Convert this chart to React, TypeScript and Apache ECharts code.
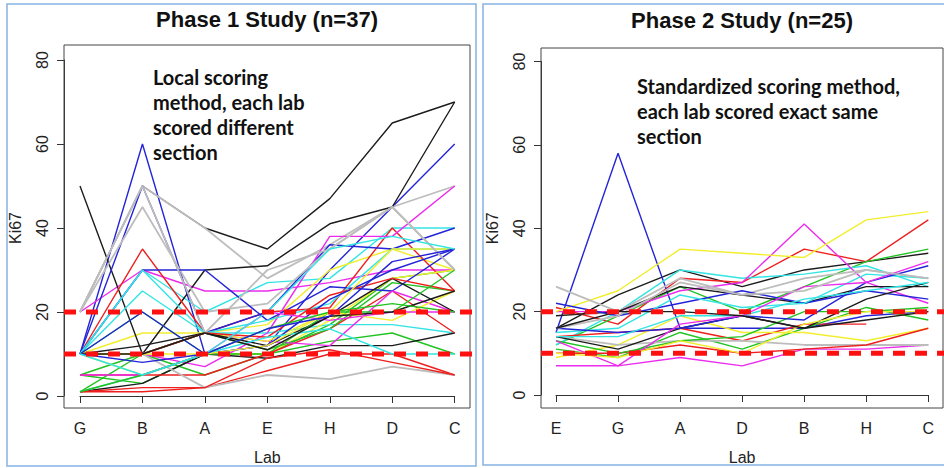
import React, { useEffect, useRef } from 'react';
import * as echarts from 'echarts';

// ---------- data ----------
const LABS_PHASE1 = ['G', 'B', 'A', 'E', 'H', 'D', 'C'];
const LABS_PHASE2 = ['E', 'G', 'A', 'D', 'B', 'H', 'C'];
const THRESHOLDS = [10, 20];
const Y_MIN = 0;
const Y_MAX = 80;
const Y_STEP = 20;

const TITLE_PHASE1 = 'Phase 1 Study (n=37)';
const TITLE_PHASE2 = 'Phase 2 Study (n=25)';
const NOTE_PHASE1 = ['Local scoring', 'method, each lab', 'scored different', 'section'];
const NOTE_PHASE2 = ['Standardized scoring method,', 'each lab scored exact same', 'section'];

// Phase 1 (order G B A E H D C)
const P1_BLACK = [
  [20, 50, 40, 35, 47, 65, 70],
  [50, 10, 30, 31, 41, 45, 70],
  [1, 3, 10, 9, 12, 12, 15],
  [10, 12, 15, 12, 19, 28, 20],
  [10, 10, 15, 11, 19, 20, 25],
];
const P1_RED = [
  [1, 1, 2, 6, 10, 10, 5],
  [10, 35, 15, 20, 21, 40, 25],
  [5, 5, 5, 10, 16, 25, 15],
  [10, 10, 15, 14, 24, 28, 25],
  [1, 2, 2, 9, 11, 8, 5],
];
const P1_GREEN = [
  [5, 10, 5, 10, 17, 28, 30],
  [5, 3, 10, 10, 13, 15, 10],
  [1, 10, 15, 11, 16, 27, 25],
  [10, 20, 10, 10, 20, 20, 30],
  [1, 5, 10, 16, 20, 22, 20],
];
const P1_BLUE = [
  [10, 60, 10, 12, 30, 45, 60],
  [10, 50, 15, 20, 36, 35, 40],
  [10, 30, 30, 18, 26, 25, 35],
  [10, 20, 10, 12, 23, 30, 35],
  [10, 8, 10, 16, 19, 32, 35],
];
const P1_CYAN = [
  [10, 30, 20, 27, 28, 40, 40],
  [10, 25, 15, 15, 17, 17, 15],
  [10, 30, 15, 18, 22, 35, 35],
  [1, 5, 10, 14, 16, 10, 10],
  [10, 5, 10, 20, 35, 38, 35],
];
const P1_MAGENTA = [
  [20, 30, 25, 25, 27, 30, 30],
  [10, 10, 7, 15, 38, 38, 50],
  [10, 10, 15, 13, 12, 25, 20],
  [5, 5, 10, 20, 18, 20, 20],
];
const P1_YELLOW = [
  [10, 15, 15, 17, 30, 35, 30],
  [10, 5, 10, 10, 18, 28, 30],
  [10, 10, 15, 13, 20, 18, 25],
  [10, 10, 10, 12, 20, 35, 35],
];
const P1_GRAY = [
  [20, 50, 40, 28, 36, 45, 50],
  [20, 45, 20, 22, 35, 45, 30],
  [10, 10, 2, 5, 4, 7, 5],
  [20, 50, 15, 30, 35, 45, 30],
];

// Phase 2 (order E G A D B H C)
const P2_BLACK = [
  [16, 24, 30, 26, 30, 32, 34],
  [19, 20, 26, 24, 22, 26, 26],
  [14, 11, 16, 19, 16, 23, 27],
  [16, 20, 20, 19, 16, 18, 20],
];
const P2_RED = [
  [21, 17, 28, 27, 35, 32, 42],
  [14, 15, 16, 13, 17, 17, null],
  [10, 10, 12, 10, 11, 12, 16],
];
const P2_GREEN = [
  [12, 19, 26, 20, 26, 32, 35],
  [11, 9, 15, 11, 16, 21, 18],
  [13, 10, 13, 14, 20, 20, 21],
];
const P2_BLUE = [
  [15, 58, 16, 16, 16, 19, 20],
  [22, 19, 22, 25, 22, 25, 23],
  [16, 15, 16, 19, 18, 27, 31],
];
const P2_CYAN = [
  [12, 20, 30, 28, 29, 31, 26],
  [15, 16, 24, 21, 22, 29, 28],
  [14, 14, 19, 19, 23, 25, 27],
];
const P2_MAGENTA = [
  [20, 20, 25, 27, 41, 27, 22],
  [7, 7, 9, 7, 11, 11, 12],
  [13, 7, 17, 19, 26, 27, 32],
];
const P2_YELLOW = [
  [20, 25, 35, 34, 33, 42, 44],
  [9, 12, 19, 15, 15, 13, 16],
  [10, 9, 13, 10, 17, 20, 20],
];
const P2_GRAY = [
  [26, 20, 28, 24, 28, 30, 28],
  [14, 12, 13, 13, 12, 12, 12],
  [16, 19, 27, 24, 25, 30, 28],
];

// ---------- styles ----------
const COLORS: Record<string, string> = {
  black: '#1c1c1c',
  red: '#ee1f1f',
  green: '#22c322',
  blue: '#2424d8',
  cyan: '#34e4e4',
  magenta: '#ec2cec',
  yellow: '#f2ee2e',
  gray: '#bdbdbd',
};

function buildLines(groups: [string, (number | null)[][]][], xi: number) {
  const out: any[] = [];
  const maxLen = Math.max(...groups.map((g) => g[1].length));
  for (let i = 0; i < maxLen; i++) {
    for (const [color, rows] of groups) {
      if (i < rows.length) {
        out.push({
          type: 'line',
          xAxisIndex: xi,
          yAxisIndex: xi,
          data: rows[i],
          showSymbol: false,
          symbol: 'none',
          silent: true,
          connectNulls: false,
          lineStyle: { color: COLORS[color], width: color === 'gray' ? 1.8 : 1.4 },
          z: 2,
        });
      }
    }
  }
  return out;
}

const FONT = '"Liberation Sans", Arial, sans-serif';
const NOTE_FONT = 'Lato, "Open Sans", sans-serif';

function makeXAxis(grid: number, data: string[], offset: number) {
  return {
    type: 'category',
    gridIndex: grid,
    data,
    boundaryGap: false,
    offset,
    name: 'Lab',
    nameLocation: 'middle',
    nameGap: 41,
    nameTextStyle: { color: '#222', fontSize: 16, fontFamily: FONT },
    axisLine: { show: true, lineStyle: { color: '#333', width: 1 } },
    axisTick: { show: true, length: 7, inside: false, lineStyle: { color: '#333', width: 1 } },
    axisLabel: { show: true, color: '#222', fontSize: 16, fontFamily: FONT, margin: 12 },
    splitLine: { show: false },
  };
}

function makeYAxis(grid: number, offset: number) {
  return {
    type: 'value',
    gridIndex: grid,
    min: Y_MIN,
    max: Y_MAX,
    interval: Y_STEP,
    offset,
    name: 'Ki67',
    nameLocation: 'middle',
    nameGap: 41,
    nameTextStyle: { color: '#222', fontSize: 16, fontFamily: FONT },
    axisLine: { show: true, lineStyle: { color: '#333', width: 1 } },
    axisTick: { show: true, length: 7, inside: false, lineStyle: { color: '#333', width: 1 } },
    axisLabel: { show: true, color: '#222', fontSize: 16, fontFamily: FONT, rotate: 90, margin: 14 },
    splitLine: { show: false },
  };
}

function thresholdSeries(xi: number) {
  return THRESHOLDS.map((t) => ({
    type: 'line',
    xAxisIndex: xi,
    yAxisIndex: xi,
    data: [
      [0, t],
      [1, t],
    ],
    showSymbol: false,
    symbol: 'none',
    silent: true,
    lineStyle: { color: '#ff1010', width: 5, type: [12, 10] },
    z: 5,
  }));
}

function noteTexts(lines: string[], x: number, y0: number) {
  return lines.map((t, i) => ({
    type: 'text',
    x,
    y: y0 + i * 25,
    style: {
      text: t,
      fill: '#111',
      fontSize: 20,
      fontWeight: 'bold',
      fontFamily: NOTE_FONT,
      align: 'left',
      textAlign: 'left',
      verticalAlign: 'middle',
      textVerticalAlign: 'middle',
    },
    z: 10,
  }));
}

export default function App() {
  const ref = useRef<HTMLDivElement>(null);
  useEffect(() => {
    document.body.style.margin = '0';
    const chart = echarts.init(ref.current!, undefined, { renderer: 'svg' });
    const p1 = buildLines(
      [
        ['black', P1_BLACK],
        ['red', P1_RED],
        ['green', P1_GREEN],
        ['blue', P1_BLUE],
        ['cyan', P1_CYAN],
        ['magenta', P1_MAGENTA],
        ['yellow', P1_YELLOW],
        ['gray', P1_GRAY],
      ],
      0
    );
    const p2 = buildLines(
      [
        ['black', P2_BLACK],
        ['red', P2_RED],
        ['green', P2_GREEN],
        ['blue', P2_BLUE],
        ['cyan', P2_CYAN],
        ['magenta', P2_MAGENTA],
        ['yellow', P2_YELLOW],
        ['gray', P2_GRAY],
      ],
      1
    );
    const hiddenX = (g: number) => ({ type: 'value', gridIndex: g, min: 0, max: 1, show: false });
    const hiddenY = (g: number) => ({ type: 'value', gridIndex: g, min: Y_MIN, max: Y_MAX, show: false });

    chart.setOption({
      animation: false,
      backgroundColor: '#ffffff',
      grid: [
        { left: 80, top: 60, width: 374.7, height: 336, outerBoundsMode: 'none' },
        { left: 556, top: 61.5, width: 372.3, height: 333.5, outerBoundsMode: 'none' },
        { left: 64, top: 60, width: 412, height: 336, outerBoundsMode: 'none' },
        { left: 541, top: 61.5, width: 403, height: 333.5, outerBoundsMode: 'none' },
      ],
      xAxis: [makeXAxis(0, LABS_PHASE1, 12), makeXAxis(1, LABS_PHASE2, 13), hiddenX(2), hiddenX(3)],
      yAxis: [makeYAxis(0, 16), makeYAxis(1, 15), hiddenY(2), hiddenY(3)],
      series: [
        ...p1,
        ...p2,
        ...thresholdSeries(2).map((s) => ({ ...s, xAxisIndex: 2, yAxisIndex: 2 })),
        ...thresholdSeries(3).map((s) => ({ ...s, xAxisIndex: 3, yAxisIndex: 3 })),
      ],
      graphic: [
        {
          type: 'rect',
          shape: { x: 7, y: 4, width: 469, height: 462 },
          style: { fill: 'none', stroke: '#86b3e3', lineWidth: 1.5 },
          z: 0,
        },
        {
          type: 'rect',
          shape: { x: 483, y: 4, width: 470, height: 461 },
          style: { fill: 'none', stroke: '#86b3e3', lineWidth: 1.5 },
          z: 0,
        },
        {
          type: 'rect',
          shape: { x: 64, y: 45, width: 406, height: 363 },
          style: { fill: 'none', stroke: '#444', lineWidth: 1 },
          z: 1,
        },
        {
          type: 'rect',
          shape: { x: 541, y: 48, width: 402, height: 360 },
          style: { fill: 'none', stroke: '#444', lineWidth: 1 },
          z: 1,
        },
        {
          type: 'text',
          x: 267,
          y: 19.5,
          style: {
            text: TITLE_PHASE1,
            fill: '#111',
            fontSize: 22,
            fontWeight: 'bold',
            fontFamily: FONT,
            align: 'center',
            textAlign: 'center',
            verticalAlign: 'middle',
            textVerticalAlign: 'middle',
          },
          z: 10,
        },
        {
          type: 'text',
          x: 742,
          y: 20.5,
          style: {
            text: TITLE_PHASE2,
            fill: '#111',
            fontSize: 22,
            fontWeight: 'bold',
            fontFamily: FONT,
            align: 'center',
            textAlign: 'center',
            verticalAlign: 'middle',
            textVerticalAlign: 'middle',
          },
          z: 10,
        },
        ...noteTexts(NOTE_PHASE1, 153, 77),
        ...noteTexts(NOTE_PHASE2, 637, 86),
      ],
    });
    return () => chart.dispose();
  }, []);
  return <div ref={ref} style={{ width: 944, height: 468 }} />;
}
